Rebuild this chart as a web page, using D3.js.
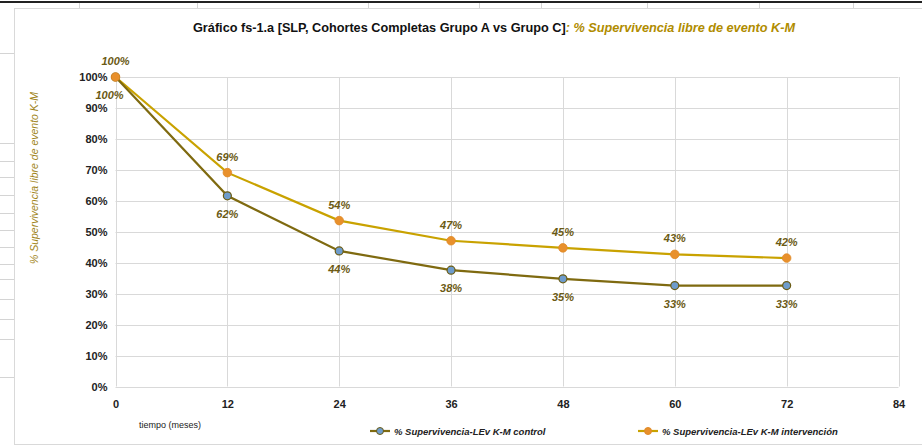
<!DOCTYPE html>
<html><head><meta charset="utf-8">
<script src="https://cdn.jsdelivr.net/npm/d3@7"></script>
<style>
html,body{margin:0;padding:0;background:#fff;}
svg{display:block;font-family:"Liberation Sans",Arial,sans-serif;}
</style></head>
<body><svg id="c" width="922" height="446"></svg>
<script>
const months = [0, 12, 24, 36, 48, 60, 72];
const controlValues = [100, 61.6, 43.8, 37.6, 34.8, 32.6, 32.6];
const interventionValues = [100, 69.1, 53.6, 47.1, 44.8, 42.7, 41.5];
const xTicks = [0, 12, 24, 36, 48, 60, 72, 84];
const yTicks = [0, 10, 20, 30, 40, 50, 60, 70, 80, 90, 100];
const seriesNames = ["% Supervivencia-LEv K-M control", "% Supervivencia-LEv K-M intervención"];
const titleMain = "Gráfico fs-1.a [SLP, Cohortes Completas Grupo A vs Grupo C]";
const titleSub = ": % Supervivencia libre de evento K-M";
const yTitle = "% Supervivencia libre de evento K-M";
const xTitle = "tiempo (meses)";
const cellLines = [53, 143, 161, 177, 195, 213, 230, 247, 264, 279, 299, 319, 339, 377];

const svg = d3.select("#c");
// spreadsheet background
svg.append("rect").attr("x",0).attr("y",0).attr("width",922).attr("height",446).attr("fill","#fff");
cellLines.forEach(y => svg.append("line").attr("x1",0).attr("x2",14).attr("y1",y+0.5).attr("y2",y+0.5).attr("stroke","#d4d4d4"));
[79,197,368,479,541,647,759,853].forEach(x => svg.append("line").attr("x1",x+0.5).attr("x2",x+0.5).attr("y1",2).attr("y2",8).attr("stroke","#d4d4d4"));
svg.append("line").attr("x1",0).attr("x2",922).attr("y1",2).attr("y2",2).attr("stroke","#222").attr("stroke-width",2);
svg.append("rect").attr("x",14.5).attr("y",8.5).attr("width",920).attr("height",436).attr("fill","#fff").attr("stroke","#d9d9d9");

const x = d3.scaleLinear().domain([0,84]).range([115.5,898.5]);
const y = d3.scaleLinear().domain([0,100]).range([386.5,77]);

// gridlines
const g = svg.append("g");
g.selectAll(".hg").data(yTicks).join("line").attr("x1",x(0)).attr("x2",x(84))
  .attr("y1",d=>Math.round(y(d))+0.5).attr("y2",d=>Math.round(y(d))+0.5).attr("stroke","#d9d9d9");
g.selectAll(".vg").data(xTicks).join("line").attr("y1",y(0)).attr("y2",y(100))
  .attr("x1",d=>Math.round(x(d))+0.5).attr("x2",d=>Math.round(x(d))+0.5).attr("stroke","#d9d9d9");

// axes labels
const yAxis = d3.axisLeft(y).tickValues(yTicks).tickFormat(d=>d+"%").tickSize(0).tickPadding(8);
const ya = svg.append("g").attr("transform",`translate(${x(0)},0)`).call(yAxis);
ya.select(".domain").remove();
ya.selectAll("text").attr("font-size",11).attr("font-weight","bold").attr("fill","#222").attr("dy","0.35em");

const xAxis = d3.axisBottom(x).tickValues(xTicks).tickSize(0).tickPadding(14);
const xa = svg.append("g").attr("transform",`translate(0,${y(0)})`).call(xAxis);
xa.select(".domain").remove();
xa.selectAll("text").attr("font-size",11).attr("font-weight","bold").attr("fill","#222");

// titles
const t = svg.append("text").attr("x",494).attr("y",32).attr("text-anchor","middle")
  .attr("font-size",13).attr("font-weight","bold").attr("textLength",602).attr("lengthAdjust","spacingAndGlyphs");
t.append("tspan").attr("fill","#111").text(titleMain);
t.append("tspan").attr("fill","#b08c00").attr("font-style","italic").text(titleSub);

svg.append("text").attr("transform","translate(38,178) rotate(-90)").attr("text-anchor","middle")
  .attr("font-size",10.5).attr("font-style","italic").attr("fill","#a08418").text(yTitle);
svg.append("text").attr("x",139).attr("y",428).attr("font-size",9).attr("fill","#222").text(xTitle);

// lines
const colors = {control:"#7f6a10", interv:"#c9a200"};
const line = d3.line().x((d,i)=>x(months[i])).y(d=>y(d));
svg.append("path").datum(interventionValues).attr("d",line).attr("fill","none").attr("stroke",colors.interv).attr("stroke-width",2.2);
svg.append("path").datum(controlValues).attr("d",line).attr("fill","none").attr("stroke",colors.control).attr("stroke-width",2.2);

svg.selectAll(".mc").data(controlValues).join("circle").attr("cx",(d,i)=>x(months[i])).attr("cy",d=>y(d))
  .attr("r",4).attr("fill","#6e9ccc").attr("stroke","#6b5c14").attr("stroke-width",1.2);
svg.selectAll(".mi").data(interventionValues).join("circle").attr("cx",(d,i)=>x(months[i])).attr("cy",d=>y(d))
  .attr("r",4.3).attr("fill","#e8902c").attr("stroke","#e08a28").attr("stroke-width",0.8);

// data labels
const lblColor = "#6b5a14";
svg.selectAll(".li").data(interventionValues).join("text")
  .attr("x",(d,i)=>x(months[i])).attr("y",d=>y(d)-12).attr("text-anchor","middle")
  .attr("font-size",11).attr("font-style","italic").attr("font-weight","bold").attr("fill",lblColor)
  .text(d=>Math.round(d)+"%");
svg.selectAll(".lc").data(controlValues).join("text")
  .attr("x",(d,i)=>x(months[i]) - (i===0?6:0)).attr("y",d=>y(d)+22).attr("text-anchor","middle")
  .attr("font-size",11).attr("font-style","italic").attr("font-weight","bold").attr("fill",lblColor)
  .text(d=>Math.round(d)+"%");

// legend
const leg = [{name:seriesNames[0], x0:370, line:colors.control, fill:"#6e9ccc", stroke:"#6b5c14"},
             {name:seriesNames[1], x0:638, line:colors.interv, fill:"#e8902c", stroke:"#e08a28"}];
leg.forEach(l => {
  svg.append("line").attr("x1",l.x0).attr("x2",l.x0+20).attr("y1",431).attr("y2",431).attr("stroke",l.line).attr("stroke-width",2.2);
  svg.append("circle").attr("cx",l.x0+10).attr("cy",431).attr("r",3.5).attr("fill",l.fill).attr("stroke",l.stroke);
  svg.append("text").attr("x",l.x0+24).attr("y",434.5).attr("font-size",9.5).attr("font-style","italic").attr("font-weight","bold")
    .attr("fill","#222").text(l.name);
});
</script></body></html>
